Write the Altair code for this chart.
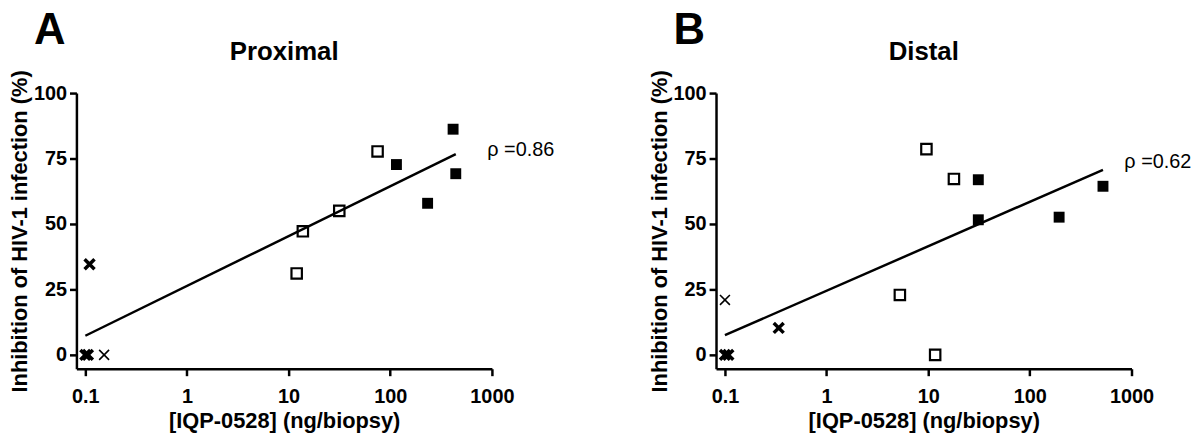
import altair as alt
import pandas as pd

FONT = "Liberation Sans"

# ---- Panel A (Proximal) ----
a_filled_x = [415, 115, 441, 233]
a_filled_y = [86.2, 72.7, 69.2, 57.9]
a_open_x = [75, 31.5, 13.8, 12.0]
a_open_y = [77.7, 55.0, 47.2, 31.1]
a_bold_x = [0.11, 0.1, 0.106]
a_bold_y = [34.6, 0, 0]
a_thin_x = [0.153]
a_thin_y = [0]
a_line_x = [0.1, 441]
a_line_y = [7.3, 76.7]

# ---- Panel B (Distal) ----
b_filled_x = [31.1, 31.1, 194, 524]
b_filled_y = [66.9, 51.6, 52.6, 64.4]
b_open_x = [9.6, 17.9, 5.26, 11.7]
b_open_y = [78.6, 67.2, 22.9, 0]
b_bold_x = [0.338, 0.1, 0.108]
b_bold_y = [10.3, 0, 0]
b_thin_x = [0.1]
b_thin_y = [21.0]
b_line_x = [0.1, 524]
b_line_y = [7.5, 70.7]

x_ticks = [0.1, 1, 10, 100, 1000]
y_ticks = [0, 25, 50, 75, 100]
X_DOMAIN = [0.0817, 1000]
Y_DOMAIN = [-5.3, 100]

W, H = 419, 278
CROSS = "M-1,-1L1,1M-1,1L1,-1"

xscale = alt.Scale(type="log", domain=X_DOMAIN, nice=False)
yscale = alt.Scale(domain=Y_DOMAIN, nice=False, zero=False)

xaxis = alt.Axis(values=x_ticks, format="~g", title="[IQP-0528] (ng/biopsy)", grid=False,
                 labelFlush=False)
yaxis = alt.Axis(values=y_ticks, title="Inhibition of HIV-1 infection (%)", grid=False,
                 titleX=-45)


def panel(letter, title, fx, fy, ox, oy, bx, by, tx, ty, lx, ly, rho, rho_x, rho_y):
    def df(x, y):
        return pd.DataFrame({"x": x, "y": y})

    X = alt.X("x:Q", scale=xscale, axis=xaxis)
    Y = alt.Y("y:Q", scale=yscale, axis=yaxis)

    line = alt.Chart(df(lx, ly)).mark_line(color="black", strokeWidth=2.5).encode(x=X, y=Y)
    filled = alt.Chart(df(fx, fy)).mark_point(shape="square", filled=True, fill="black",
                                              opacity=1, size=121).encode(x=X, y=Y)
    opens = alt.Chart(df(ox, oy)).mark_point(shape="square", filled=False, stroke="black",
                                             strokeWidth=2.2, opacity=1, size=110).encode(x=X, y=Y)
    bold = alt.Chart(df(bx, by)).mark_point(shape=CROSS, filled=False, stroke="black",
                                            strokeWidth=3.5, opacity=1, size=100).encode(x=X, y=Y)
    thin = alt.Chart(df(tx, ty)).mark_point(shape=CROSS, filled=False, stroke="black",
                                            strokeWidth=1.6, opacity=1, size=100).encode(x=X, y=Y)
    rho_t = alt.Chart(pd.DataFrame({"x": [rho_x], "y": [rho_y], "t": [rho]})).mark_text(
        align="left", baseline="middle", fontSize=20, font=FONT, color="black"
    ).encode(x=X, y=Y, text="t:N")
    letter_t = alt.Chart(pd.DataFrame({"t": [letter]})).mark_text(
        align="center", baseline="alphabetic", fontSize=44, fontWeight="bold", font=FONT, color="black"
    ).encode(x=alt.value(-27), y=alt.value(-49), text="t:N")
    title_t = alt.Chart(pd.DataFrame({"t": [title]})).mark_text(
        align="center", baseline="alphabetic", fontSize=26, fontWeight="bold", font=FONT, color="black"
    ).encode(x=alt.value(W / 2), y=alt.value(-33), text="t:N")

    return alt.layer(line, filled, opens, bold, thin, rho_t, letter_t, title_t).properties(
        width=W, height=H,
    )


pa = panel("A", "Proximal", a_filled_x, a_filled_y, a_open_x, a_open_y, a_bold_x, a_bold_y,
           a_thin_x, a_thin_y, a_line_x, a_line_y, "\u03c1 =0.86", 900, 78.4)
pb = panel("B", "Distal", b_filled_x, b_filled_y, b_open_x, b_open_y, b_bold_x, b_bold_y,
           b_thin_x, b_thin_y, b_line_x, b_line_y, "\u03c1 =0.62", 850, 73.5)

chart = alt.hconcat(pa, pb, spacing=226, bounds="flush").properties(padding=0).configure_view(
    stroke=None
).configure_axis(
    domainColor="black", domainWidth=2.5, tickColor="black", tickWidth=2.5, tickSize=7,
    labelFont=FONT, labelFontSize=20, labelFontWeight="bold", labelColor="black",
    titleFont=FONT, titleFontSize=22, titleFontWeight="bold", titleColor="black",
).configure_axisX(titlePadding=4, labelPadding=11).configure_axisY(titlePadding=4, labelPadding=3)

chart.save("out.html", embed_options={"renderer": "svg", "actions": False})
